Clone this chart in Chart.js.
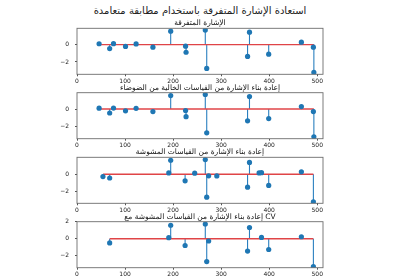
<!DOCTYPE html>
<html><head><meta charset="utf-8">
<script src="https://cdn.jsdelivr.net/npm/chart.js@4/dist/chart.umd.min.js"></script>
<style>
html,body{margin:0;padding:0;background:#fff;}
#wrap{position:relative;width:400px;height:280px;overflow:hidden;background:#fff;}
#sup{position:absolute;left:0;top:4px;width:400px;text-align:center;font-family:"DejaVu Sans";font-weight:normal;font-size:10px;line-height:13px;color:#222;}
canvas{position:absolute;left:0;}
</style></head><body>
<div id="wrap"><div id="sup"></div></div>
<script>
// ---- text ----
const supTitle = "استعادة الإشارة المتفرقة باستخدام مطابقة متعامدة";
const panelTitles = [
  "الإشارة المتفرقة",
  "إعادة بناء الإشارة من القياسات الخالية من الضوضاء",
  "إعادة بناء الإشارة من القياسات المشوشة",
  "إعادة بناء الإشارة من القياسات المشوشة مع CV"
];
// ---- ticks ----
const xTicks = [0, 100, 200, 300, 400, 500];
const yTicksA = [-2, 0];
const yTicksB = [-2, 0, 2];
// ---- data ----
const trueIdx = [46, 68, 76, 101, 123, 158, 195, 226, 227, 267, 270, 355, 359, 399, 467, 492, 493];
const trueVal = [0.1, -0.46, 0.11, -0.21, 0.08, -0.3, 1.55, -0.18, -0.88, 1.68, -2.74, -1.36, 1.43, -1.1, 0.28, -0.29, -3.2];
const cleanIdx = [46, 68, 76, 101, 123, 158, 195, 226, 227, 267, 270, 355, 359, 399, 467, 492, 493];
const cleanVal = [0.1, -0.46, 0.11, -0.21, 0.08, -0.3, 1.55, -0.18, -0.88, 1.68, -2.74, -1.36, 1.43, -1.1, 0.28, -0.29, -3.2];
const noisyIdx = [54, 68, 191, 195, 225, 245, 267, 270, 274, 291, 355, 359, 379, 384, 399, 467, 492];
const noisyVal = [-0.27, -0.44, 0.15, 1.61, -0.77, 0.12, 1.69, -2.65, -0.19, -0.2, -1.5, 1.36, 0.15, 0.18, -1.3, 0.27, -3.2];
const cvIdx = [68, 191, 195, 225, 267, 270, 274, 355, 359, 384, 399, 467, 492];
const cvVal = [-0.5, 0.12, 1.58, -0.8, 1.73, -2.69, -0.27, -1.46, 1.32, 0.15, -1.27, 0.23, -3.27];

// ---- layout (not data) ----
const frameTops = [28.3, 92.7, 157.3, 221.7];
const frameH = 46;
const axisH = 12;
const yRanges = [[-3.42, 1.88], [-3.42, 1.88], [-3.36, 1.95], [-3.41, 2.0]];

document.getElementById('sup').textContent = supTitle;
const wrap = document.getElementById('wrap');

function panel(i, idx, val, yTicks) {
  const ft = frameTops[i];
  const cTop = Math.floor(ft) - 14;
  const padTop = ft - cTop;
  const canvas = document.createElement('canvas');
  canvas.width = 400;
  canvas.height = Math.ceil(padTop + frameH + axisH);
  canvas.style.top = cTop + 'px';
  wrap.appendChild(canvas);
  const afterH = canvas.height - padTop - frameH - axisH;

  const markers = idx.map((x, k) => ({x: x, y: val[k]}));
  const stems = [];
  idx.forEach((x, k) => { stems.push({x: x, y: 0}, {x: x, y: val[k]}, {x: x, y: null}); });
  const base = [{x: Math.min(...idx), y: 0}, {x: Math.max(...idx), y: 0}];

  const deco = {
    id: 'deco' + i,
    afterDraw(chart) {
      const {ctx, chartArea: a} = chart;
      ctx.save();
      ctx.strokeStyle = '#6e6e6e';
      ctx.lineWidth = 0.9;
      ctx.strokeRect(a.left, a.top, a.right - a.left, a.bottom - a.top);
      ctx.fillStyle = '#111';
      ctx.font = '7.5px "DejaVu Sans"';
      ctx.textAlign = 'center';
      ctx.textBaseline = 'alphabetic';
      ctx.fillText(panelTitles[i], (a.left + a.right) / 2, a.top - 3);
      ctx.restore();
    }
  };

  new Chart(canvas, {
    type: 'line',
    data: {datasets: [
      {data: markers, showLine: false, pointRadius: 2.6, pointHoverRadius: 2.6, pointBackgroundColor: '#1f77b4', pointBorderWidth: 0, order: 0},
      {data: base, showLine: true, borderColor: '#e04447', borderWidth: 1.4, pointRadius: 0, fill: false, order: 1},
      {data: stems, showLine: true, borderColor: '#2a7fbf', borderWidth: 1.1, pointRadius: 0, spanGaps: false, fill: false, order: 2}
    ]},
    options: {
      responsive: false, animation: false, devicePixelRatio: 1,
      events: [],
      layout: {padding: {top: padTop, left: 0, right: 77, bottom: afterH}},
      plugins: {legend: {display: false}, tooltip: {enabled: false}, title: {display: false}},
      scales: {
        x: {
          type: 'linear', min: 0, max: 512,
          afterBuildTicks: s => { s.ticks = xTicks.map(v => ({value: v})); },
          afterFit: s => { s.height = axisH; },
          grid: {display: true, drawOnChartArea: false, drawTicks: true, tickLength: 2, color: '#555'},
          border: {display: false},
          ticks: {font: {family: 'DejaVu Sans', size: 6}, color: '#222', padding: 1.5, maxRotation: 0, autoSkip: false}
        },
        y: {
          type: 'linear', min: yRanges[i][0], max: yRanges[i][1],
          afterBuildTicks: s => { s.ticks = yTicks.map(v => ({value: v})); },
          afterFit: s => { s.width = 77; },
          grid: {display: true, drawOnChartArea: false, drawTicks: true, tickLength: 2, color: '#555'},
          border: {display: false},
          ticks: {font: {family: 'DejaVu Sans', size: 6}, color: '#222', padding: 6,
                  callback: v => (v < 0 ? '\u2212' + Math.abs(v) : String(v))}
        }
      }
    },
    plugins: [deco]
  });
}

panel(0, trueIdx, trueVal, yTicksA);
panel(1, cleanIdx, cleanVal, yTicksA);
panel(2, noisyIdx, noisyVal, yTicksA);
panel(3, cvIdx, cvVal, yTicksB);
</script>
</body></html>
